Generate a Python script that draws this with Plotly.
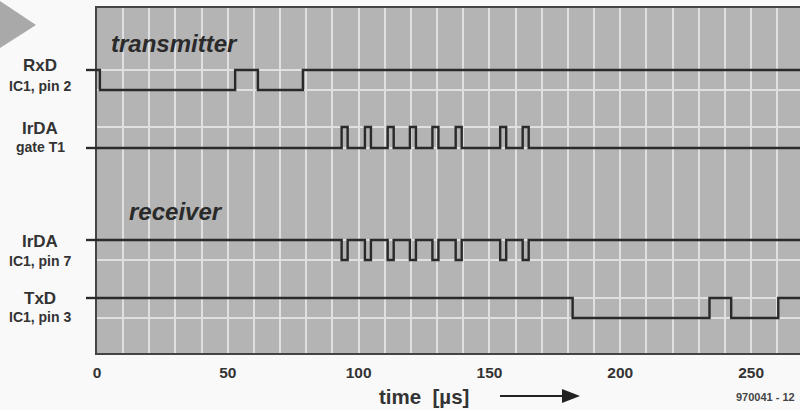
import plotly.graph_objects as go

# ---- data (time in µs, logic levels 0/1) ----
rxd_times = [0, 1.1, 52.8, 61.5, 78.7]
rxd_levels = [1, 0, 1, 0, 1]

irda_pulse_starts = [93.5, 102.4, 111.1, 119.6, 128.2, 137.1, 154.1, 162.7]
irda_pulse_width = 2.3

txd_times = [0, 181.8, 234.1, 242.4, 260.4]
txd_levels = [1, 0, 1, 0, 1]

x_ticks = [0, 50, 100, 150, 200, 250]

labels = [("RxD", "IC1, pin 2"), ("IrDA", "gate T1"), ("IrDA", "IC1, pin 7"), ("TxD", "IC1, pin 3")]

# ---- layout geometry ----
W, H = 800, 410
L, R, T, B = 97, 0, 8, 57
PW, PH = W - L - R, H - T - B
X_MAX = 268.7
Y_MAX = 17.25
offsets = [13.15, 10.25, 4.65, 1.75]  # low level of each trace (y units)
amps = [1.0, 1.05, 1.0, 1.0]


def px_x(px):
    return (px - L) / PW


def px_y(py):
    return (H - B - py) / PH


def steps(times, levels):
    xs, ys = list(times) + [X_MAX], list(levels) + [levels[-1]]
    return xs, ys


def pulse_train(starts, width, idle, active):
    xs, ys = [0], [idle]
    for s in starts:
        xs += [s, s + width]
        ys += [active, idle]
    xs.append(X_MAX)
    ys.append(idle)
    return xs, ys


signals = [
    steps(rxd_times, rxd_levels),
    pulse_train(irda_pulse_starts, irda_pulse_width, 0, 1),
    pulse_train(irda_pulse_starts, irda_pulse_width, 1, 0),
    steps(txd_times, txd_levels),
]

LINE = "#2a2a2a"
fig = go.Figure()
for (xs, ys), off, amp in zip(signals, offsets, amps):
    fig.add_trace(go.Scatter(
        x=xs, y=[off + v * amp for v in ys], mode="lines", line_shape="hv",
        line=dict(color=LINE, width=2.4), hoverinfo="skip", showlegend=False))

levels_grid = []
for off, amp in zip(offsets, amps):
    levels_grid += [off, off + amp]

shapes = []
# lead-in stubs left of the plot area
for (xs, ys), off, amp in zip(signals, offsets, amps):
    yv = off + ys[0] * amp
    shapes.append(dict(type="line", xref="paper", yref="y", x0=px_x(86), x1=0,
                       y0=yv, y1=yv, line=dict(color=LINE, width=2.4)))
# decorative triangle
shapes.append(dict(type="path", xref="paper", yref="paper",
                   path=f"M {px_x(0)} {px_y(1)} L {px_x(36)} {px_y(25)} L {px_x(0)} {px_y(48)} Z",
                   fillcolor="#a9a9a9", line=dict(width=0)))
# time arrow
shapes.append(dict(type="line", xref="paper", yref="paper", x0=px_x(500), x1=px_x(566),
                   y0=px_y(396), y1=px_y(396), line=dict(color="#222", width=2)))
shapes.append(dict(type="path", xref="paper", yref="paper",
                   path=f"M {px_x(562)} {px_y(389)} L {px_x(580)} {px_y(396)} L {px_x(562)} {px_y(403)} Z",
                   fillcolor="#222", line=dict(width=0)))

ann = []
FONT = "Liberation Sans, Arial, sans-serif"
label_y = [(65, 86), (128, 147), (241, 261), (298, 317)]
for (main, sub), (y1, y2) in zip(labels, label_y):
    ann.append(dict(text=main, x=px_x(40), y=px_y(y1), xref="paper", yref="paper",
                    showarrow=False, xanchor="center", yanchor="middle",
                    font=dict(family=FONT, size=17, color="#333", weight="bold")))
    ann.append(dict(text=sub, x=px_x(40), y=px_y(y2), xref="paper", yref="paper",
                    showarrow=False, xanchor="center", yanchor="middle",
                    font=dict(family=FONT, size=14, color="#333", weight="bold")))
for txt, x0, yc in [("transmitter", 109, 43), ("receiver", 127, 212)]:
    ann.append(dict(text=txt, x=px_x(x0), y=px_y(yc), xref="paper", yref="paper",
                    showarrow=False, xanchor="left", yanchor="middle",
                    font=dict(family=FONT, size=24, color="#2a2a2a", weight="bold", style="italic")))
ann.append(dict(text="time  [µs]", x=px_x(424), y=px_y(396), xref="paper", yref="paper",
                showarrow=False, xanchor="center", yanchor="middle",
                font=dict(family=FONT, size=20.5, color="#333", weight="bold")))
ann.append(dict(text="970041 - 12", x=px_x(797), y=px_y(397), xref="paper", yref="paper",
                showarrow=False, xanchor="right", yanchor="middle",
                font=dict(family=FONT, size=11, color="#444", weight="bold")))

GRID = "#e0e0e0"
fig.update_layout(
    width=W, height=H, margin=dict(l=L, r=R, t=T, b=B),
    paper_bgcolor="#f9f9f9", plot_bgcolor="#b4b4b4",
    shapes=shapes, annotations=ann,
    xaxis=dict(range=[0, X_MAX], tickvals=x_ticks, showgrid=True, gridcolor=GRID, gridwidth=1.5,
               minor=dict(dtick=10, tick0=0, showgrid=True, gridcolor=GRID, gridwidth=1.5),
               showline=True, linecolor="#444", linewidth=2, mirror=True,
               ticks="outside", ticklen=4, tickcolor="rgba(0,0,0,0)", zeroline=False,
               tickfont=dict(family=FONT, size=15.5, color="#333", weight="bold")),
    yaxis=dict(range=[0, Y_MAX], tickvals=levels_grid, showticklabels=False, showgrid=True,
               gridcolor=GRID, gridwidth=1.5, zeroline=False,
               showline=True, linecolor="#444", linewidth=2),
)

fig.write_html("out.html", config={"displayModeBar": False},
               post_script="document.body.style.margin='0';document.body.style.overflow='hidden';")
